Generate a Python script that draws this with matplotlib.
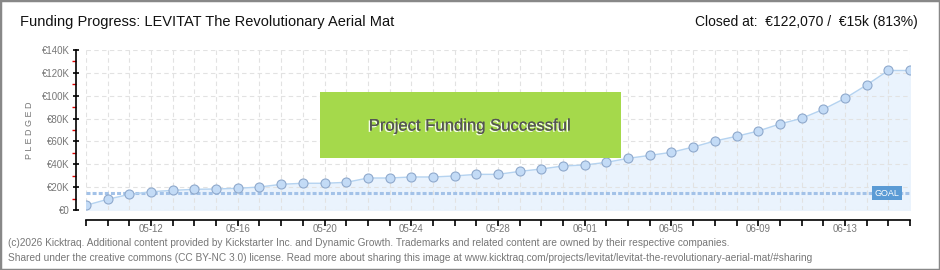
import matplotlib
matplotlib.use("Agg")
import matplotlib.pyplot as plt
from matplotlib.patches import Rectangle
import matplotlib.patheffects as pe

plt.rcParams['font.family'] = ['Liberation Sans', 'DejaVu Sans']

# Daily pledged totals (in thousands of euro), 05-09 .. 06-16
pledged = [4.1, 9.4, 13.7, 16.0, 17.2, 18.1, 18.4, 19.0, 20.1, 22.5,
           23.4, 23.4, 24.2, 28.0, 28.0, 28.9, 28.9, 29.8, 31.2, 31.2,
           33.8, 35.9, 38.5, 39.4, 41.7, 45.2, 47.8, 50.5, 55.1, 60.4,
           64.5, 69.1, 75.3, 80.2, 88.1, 97.7, 109.4, 122.1, 122.07]
goal = 15
tick_idx = [3, 7, 11, 15, 19, 23, 27, 31, 35]
tick_labels = ['05-12', '05-16', '05-20', '05-24', '05-28', '06-01', '06-05', '06-09', '06-13']
y_ticks = [0, 20, 40, 60, 80, 100, 120, 140]
y_labels = ['€0', '€20K', '€40K', '€60K', '€80K', '€100K', '€120K', '€140K']

W, H = 940, 270
fig = plt.figure(figsize=(W / 100, H / 100), dpi=100)
ax = fig.add_axes([86 / W, (H - 210) / H, (910 - 86) / W, 160 / H])

x = list(range(len(pledged)))
ax.fill_between(x, pledged, 0, color='#eaf3fd', zorder=1)
ax.plot(x, pledged, color='#b5d3f0', lw=1, zorder=3)
ax.plot(x, pledged, 'o', ms=6.5, mfc='#c3dbf6', mec='#8fa9cc', mew=0.8, zorder=4)
ax.plot([0, len(pledged) - 1], [goal, goal], color='#a3c2e8', lw=2.2,
        dashes=(1.3, 0.7), zorder=2)

ax.set_xlim(0, len(pledged) - 1)
ax.set_ylim(0, 140)

# grid
ax.set_xticks(x)
ax.set_xticklabels([])
ax.set_yticks(y_ticks)
ax.set_yticklabels(y_labels)
ax.grid(True, color='#e2e2e2', lw=0.8, ls=(0, (4, 3)), zorder=0)

for s in ['top', 'right']:
    ax.spines[s].set_visible(False)
ax.spines['left'].set_position(('outward', 7))
ax.spines['bottom'].set_position(('outward', 7))
ax.spines['left'].set_bounds(0, 140)
ax.spines['left'].set_linewidth(1.2)
ax.spines['bottom'].set_linewidth(1.2)

ax.tick_params(axis='y', direction='inout', length=5, width=1.2, labelsize=7,
               labelcolor='#777777', pad=2)
ax.set_yticks([10, 30, 50, 70, 90, 110, 130], minor=True)
ax.tick_params(axis='y', which='minor', direction='out', length=3, width=1, color='#dd0000')
ax.tick_params(axis='x', direction='out', length=4, width=1.2)

# date labels below the axis
for i, lab in zip(tick_idx, tick_labels):
    ax.annotate(lab, xy=(i, 0), xycoords='data', xytext=(0, -14),
                textcoords='offset points', ha='center', va='center',
                fontsize=7, color='#777777', annotation_clip=False)

fig.text(29 / W, 1 - 130 / H, 'P L E D G E D', rotation=90, ha='center', va='center',
         fontsize=6.5, color='#777777')

# success banner
fig.patches.append(Rectangle((320 / W, 1 - 158 / H), 301 / W, 66 / H,
                             transform=fig.transFigure, facecolor='#a5d94b',
                             edgecolor='none', zorder=5))
fig.text(470 / W, 1 - 126 / H, 'Project Funding Successful', ha='center', va='center',
         fontsize=12, color='#555555', zorder=6,
         path_effects=[pe.withSimplePatchShadow(offset=(-1, -1), shadow_rgbFace='white', alpha=0.9),
                       pe.Normal()])

# goal tag
fig.text(887 / W, 1 - 193 / H, 'GOAL', ha='center', va='center', fontsize=6.5,
         color='white', zorder=6,
         bbox=dict(boxstyle='square,pad=0.25', fc='#5b9bd5', ec='none'))

# titles
fig.text(20 / W, 1 - 22 / H, 'Funding Progress: LEVITAT The Revolutionary Aerial Mat',
         ha='left', va='center', fontsize=10.5, color='#111111')
fig.text(918 / W, 1 - 22 / H, 'Closed at:  €122,070 /  €15k (813%)',
         ha='right', va='center', fontsize=10, color='#111111')

# footer
fig.text(8 / W, 1 - 243 / H,
         '(c)2026 Kicktraq. Additional content provided by Kickstarter Inc. and Dynamic Growth. '
         'Trademarks and related content are owned by their respective companies.',
         ha='left', va='center', fontsize=7.3, color='#777777')
fig.text(8 / W, 1 - 258 / H,
         'Shared under the creative commons (CC BY-NC 3.0) license. Read more about sharing this image at '
         'www.kicktraq.com/projects/levitat/levitat-the-revolutionary-aerial-mat/#sharing',
         ha='left', va='center', fontsize=7.3, color='#777777')

# outer frame
fig.patches.append(Rectangle((0, 0), 1, 1, transform=fig.transFigure, fill=False,
                             edgecolor='#888888', lw=2.5))

fig.savefig('out.png', dpi=100)
